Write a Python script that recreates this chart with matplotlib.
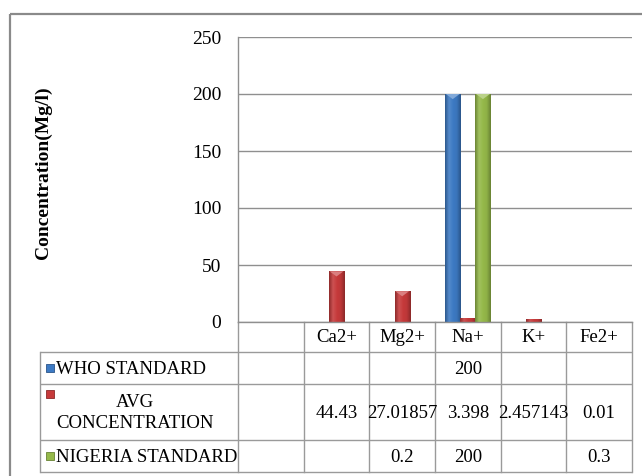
import numpy as np
import matplotlib
matplotlib.use("Agg")
import matplotlib.pyplot as plt
from matplotlib.colors import LinearSegmentedColormap, to_rgb
from matplotlib.patches import Rectangle, Polygon

# ---- data ----
categories = ["", "Ca2+", "Mg2+", "Na+", "K+", "Fe2+"]
series_names = ["WHO STANDARD", "AVG\nCONCENTRATION", "NIGERIA STANDARD"]
who_standard = [None, None, None, 200, None, None]
avg_concentration = [None, 44.43, 27.01857, 3.398, 2.457143, 0.01]
nigeria_standard = [None, None, 0.2, 200, None, 0.3]
y_ticks = [0, 50, 100, 150, 200, 250]
y_label = "Concentration(Mg/l)"

series = [who_standard, avg_concentration, nigeria_standard]
colors = ["#3d7ac4", "#c63a3b", "#95b94a"]

plt.rcParams["font.family"] = ["Liberation Serif", "DejaVu Serif"]

W, H = 642, 476
fig = plt.figure(figsize=(W / 100, H / 100), dpi=100)

# overlay in pixel coordinates for the frame, axis title and data table
ov = fig.add_axes([0, 0, 1, 1], zorder=0)
ov.set_xlim(0, W)
ov.set_ylim(H, 0)
ov.axis("off")

# plot area
pl, pr, pt, pb = 238, 632, 37, 322
ax = fig.add_axes([pl / W, 1 - pb / H, (pr - pl) / W, (pb - pt) / H], zorder=1)
ax.patch.set_alpha(0)
ax.set_xlim(-0.5, len(categories) - 0.5)
ax.set_ylim(y_ticks[0], y_ticks[-1])
ax.set_yticks(y_ticks)
ax.set_xticks([])
ax.tick_params(axis="y", length=0, pad=12, labelsize=14)
for s in ["top", "right"]:
    ax.spines[s].set_visible(False)
for s in ["left", "bottom"]:
    ax.spines[s].set_color("#8f8f8f")
    ax.spines[s].set_linewidth(1.0)
ax.yaxis.grid(True, color="#8f8f8f", linewidth=1.0)
ax.set_axisbelow(True)


def shade(c, f):
    r = np.array(to_rgb(c))
    if f < 1:
        return tuple(r * f)
    return tuple(r + (1 - r) * (f - 1))


bw = 0.23
x = np.arange(len(categories))
for k, (vals, col) in enumerate(zip(series, colors)):
    cmap = LinearSegmentedColormap.from_list(
        "g", [shade(col, 0.72), shade(col, 1.12), col, shade(col, 0.95), shade(col, 0.7)])
    for i, v in enumerate(vals):
        if v is None:
            continue
        xc = x[i] + (k - 1) * bw
        bars = ax.bar(xc, v, width=bw, color=col, edgecolor="none", zorder=2)
        patch = bars.patches[0]
        grad = np.linspace(0, 1, 64).reshape(1, -1)
        im = ax.imshow(grad, extent=[xc - bw / 2, xc + bw / 2, 0, v], aspect="auto",
                       cmap=cmap, zorder=2.5, interpolation="bilinear")
        im.set_clip_path(patch)
        if v > 10:
            d = 4.5
            tri = Polygon([[xc - bw / 2 + 0.01, v], [xc + bw / 2 - 0.01, v], [xc, v - d]],
                          closed=True, facecolor=shade(col, 1.35), edgecolor="none", zorder=3)
            ax.add_patch(tri)
ax.set_xlim(-0.5, len(categories) - 0.5)
ax.set_ylim(y_ticks[0], y_ticks[-1])

# outer frame
ov.add_patch(Rectangle((10, 14), W + 20, H + 20, fill=False, edgecolor="#8a8a8a", linewidth=1.6))

# y axis title
ov.text(43, (pt + pb) / 2 - 7, y_label, rotation=90, ha="center", va="center",
        fontsize=14, fontweight="bold")

# ---- data table ----
fig.canvas.draw()
inv = ov.transData.inverted()


def col_px(xd):
    return inv.transform(ax.transData.transform((xd, 0)))[0]


edges = [col_px(i - 0.5) for i in range(len(categories) + 1)]
centers = [col_px(i) for i in range(len(categories))]
row_lines = [pb, 352, 384, 440, 472]
tleft = 40
lc = "#9a9a9a"
lw = 1.0

for yv in row_lines[1:]:
    ov.plot([tleft, edges[-1]], [yv, yv], color=lc, linewidth=lw, solid_capstyle="butt")
ov.plot([tleft, tleft], [row_lines[1], row_lines[-1]], color=lc, linewidth=lw)
for xe in edges:
    ov.plot([xe, xe], [pb, row_lines[-1]], color=lc, linewidth=lw)

fs = 13.5
hdr_y = (row_lines[0] + row_lines[1]) / 2
for c, name in zip(centers, categories):
    ov.text(c, hdr_y + 1, name, ha="center", va="center", fontsize=fs)


def fmt(v):
    return f"{v:.10g}"


for r, (vals, name, col) in enumerate(zip(series, series_names, colors)):
    y0, y1 = row_lines[r + 1], row_lines[r + 2]
    yc = (y0 + y1) / 2
    for c, v in zip(centers, vals):
        if v is not None:
            ov.text(c, yc + 1, fmt(v), ha="center", va="center", fontsize=fs)
    if "\n" in name:
        my = y0 + 10
        ov.text(135, yc + 1, name, ha="center", va="center", fontsize=fs,
                multialignment="center", linespacing=1.35)
    else:
        my = yc
        ov.text(56, yc + 1, name, ha="left", va="center", fontsize=fs)
    ov.add_patch(Rectangle((46, my - 4), 8, 8, facecolor=col,
                           edgecolor=shade(col, 0.7), linewidth=0.6))

fig.savefig("out.png", dpi=100)
